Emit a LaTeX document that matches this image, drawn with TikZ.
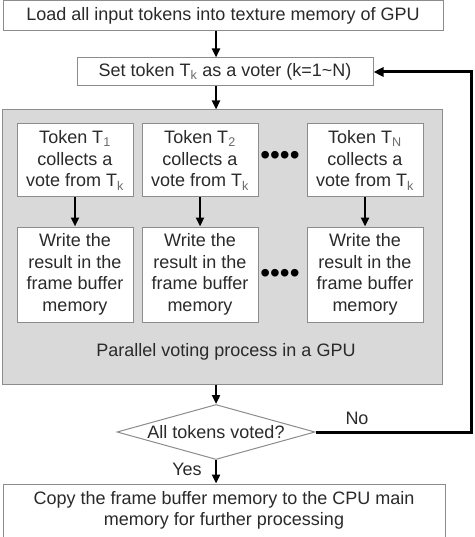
\documentclass[tikz,border=0pt]{standalone}
\usepackage{fontspec}
\setmainfont{Liberation Sans}
\usetikzlibrary{positioning, shapes.geometric, arrows.meta}
\usepackage{xcolor}
\definecolor{xgray}{HTML}{8C8C8C}
\definecolor{xfill}{HTML}{D9D9D9}
\definecolor{xtext}{HTML}{2A2A2A}
\definecolor{xsub}{HTML}{6A6A6A}
\tikzset{
	arrow/.style={line width=2.4pt, -{Triangle[length=9pt, width=8pt]}},
	loop/.style={line width=3pt, -{Triangle[length=10pt, width=9pt]}},
	stepbox/.style={draw=xgray, line width=1pt, fill=white, text=xtext, inner sep=0pt, align=center},
	lbl/.style={text=xtext, inner sep=0pt},
}
\newcommand{\tsub}[1]{\textsubscript{\color{xsub}#1}}

\begin{document}
\begin{tikzpicture}[x=1pt, y=-1pt]
	\fontsize{18}{21.5}\selectfont
	\useasboundingbox (0,0) rectangle (474,537);
	\coordinate (spine) at (216,0);
	\coordinate (turn) at (471,0);
	% load and set voter
	\node[stepbox, minimum width=440pt, minimum height=30pt] (load) at (223,16) {Load all input tokens into texture memory of GPU};
	\node[stepbox, minimum width=296pt, minimum height=28pt] (set) at (225,72) {Set token T\tsub{k} as a voter (k=1\textasciitilde N)};
	\draw[arrow] (load.south -| spine) -- (set.north -| spine);
	
	% GPU
	\node[stepbox, fill=xfill, minimum width=440pt, minimum height=274pt] (gpu) at (222,247) {};
	\node[lbl] (gpulbl) at (226,352) {Parallel voting process in a GPU};
	\draw[arrow] (set.south -| spine) -- (gpu.north -| spine);
	
	\node[stepbox, minimum width=116pt, minimum height=73pt] (tok1) at (75,160.5) {Token T\tsub{1}\\collects a\\vote from T\tsub{k}};
	\node[stepbox, minimum width=116pt, minimum height=73pt] (tok2) at (200,160.5) {Token T\tsub{2}\\collects a\\vote from T\tsub{k}};
	\node[stepbox, minimum width=116pt, minimum height=73pt] (tokN) at (365,160.5) {Token T\tsub{N}\\collects a\\vote from T\tsub{k}};
	\node[lbl, text=black] (dots1) at (280,158) {\fontsize{28}{28}\selectfont ••••};
	
	\node[stepbox, minimum width=116pt, minimum height=95pt] (wr1) at (75,274.5) {Write the\\result in the\\frame buffer\\memory};
	\node[stepbox, minimum width=116pt, minimum height=95pt] (wr2) at (200,274.5) {Write the\\result in the\\frame buffer\\memory};
	\node[stepbox, minimum width=116pt, minimum height=95pt] (wrN) at (365,274.5) {Write the\\result in the\\frame buffer\\memory};
	\node[lbl, text=black] (dots2) at (280,276) {\fontsize{28}{28}\selectfont ••••};
	
	\draw[arrow] (tok1) -- (wr1);
	\draw[arrow] (tok2) -- (wr2);
	\draw[arrow] (tokN) -- (wrN);
	
	% check and copy
	\node[stepbox, shape=diamond, aspect=3.6, minimum width=198pt, minimum height=55pt] (done) at (216,432) {All tokens voted?};
	\draw[arrow] (gpu.south -| spine) -- (done.north);
	\node[lbl] (no) at (357,418) {No};
	\node[lbl] (yes) at (187,469) {Yes};
	
	\node[stepbox, minimum width=442pt, minimum height=53pt] (copy) at (224,510.5) {Copy the frame buffer memory to the CPU main\\memory for further processing};
	\draw[arrow] (done.south) -- (copy.north -| spine);
	
	\draw[loop] (done.east) -- (done.east -| turn) -- (set.east -| turn) -- (set.east);
\end{tikzpicture}
\end{document}
